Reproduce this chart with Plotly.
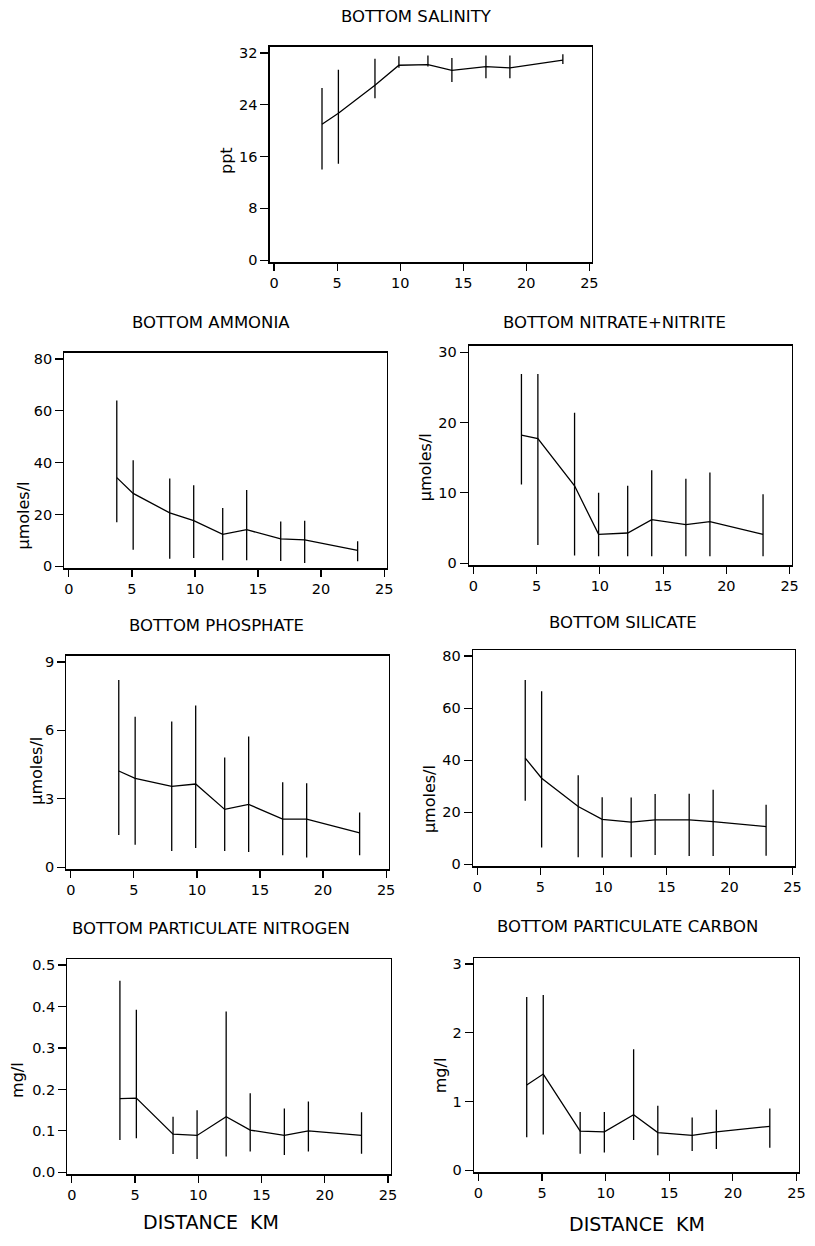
import plotly.graph_objects as go

W, H = 815, 1246

# ---------------- data ----------------
distance_km = [3.8, 5.1, 8.0, 9.9, 12.2, 14.1, 16.8, 18.7, 22.9]
x_ticks = [0, 5, 10, 15, 20, 25]

salinity_mean = [21.0, 22.7, 27.0, 30.1, 30.2, 29.3, 29.9, 29.7, 30.9]
salinity_hi = [26.6, 29.4, 31.1, 31.5, 31.6, 31.2, 31.6, 31.6, 31.8]
salinity_lo = [14.0, 14.9, 25.0, 29.7, 29.9, 27.5, 28.1, 28.1, 30.3]
salinity_ticks = [0, 8, 16, 24, 32]

ammonia_mean = [34.2, 28.1, 20.6, 17.6, 12.3, 14.1, 10.6, 10.2, 6.1]
ammonia_hi = [64.0, 40.9, 33.9, 31.3, 22.5, 29.4, 17.3, 17.6, 9.7]
ammonia_lo = [17.0, 6.4, 2.9, 3.2, 2.3, 2.3, 2.0, 1.3, 1.9]
ammonia_ticks = [0, 20, 40, 60, 80]

nitrate_mean = [18.2, 17.7, 11.0, 4.1, 4.3, 6.2, 5.5, 5.9, 4.1]
nitrate_hi = [26.9, 26.9, 21.4, 10.0, 11.0, 13.2, 12.0, 12.9, 9.8]
nitrate_lo = [11.2, 2.6, 1.1, 1.0, 1.0, 1.0, 1.0, 1.0, 1.0]
nitrate_ticks = [0, 10, 20, 30]

phosphate_mean = [4.22, 3.90, 3.55, 3.65, 2.54, 2.76, 2.11, 2.11, 1.51]
phosphate_hi = [8.21, 6.60, 6.39, 7.09, 4.81, 5.73, 3.73, 3.69, 2.40]
phosphate_lo = [1.42, 0.99, 0.72, 0.85, 0.72, 0.67, 0.53, 0.43, 0.53]
phosphate_ticks = [0, 3, 6, 9]

silicate_mean = [40.8, 33.1, 22.2, 17.3, 16.2, 17.1, 17.1, 16.4, 14.5]
silicate_hi = [70.8, 66.5, 34.2, 25.8, 25.7, 27.0, 27.1, 28.6, 22.9]
silicate_lo = [24.4, 6.5, 2.7, 2.6, 2.7, 3.6, 3.2, 3.2, 3.3]
silicate_ticks = [0, 20, 40, 60, 80]

pn_mean = [0.178, 0.179, 0.092, 0.089, 0.134, 0.102, 0.089, 0.100, 0.089]
pn_hi = [0.462, 0.392, 0.134, 0.150, 0.388, 0.191, 0.154, 0.171, 0.145]
pn_lo = [0.078, 0.082, 0.044, 0.032, 0.038, 0.050, 0.042, 0.050, 0.045]
pn_ticks = [0.0, 0.1, 0.2, 0.3, 0.4, 0.5]
pn_ticktext = ["0.0", "0.1", "0.2", "0.3", "0.4", "0.5"]

pc_mean = [1.24, 1.40, 0.57, 0.56, 0.81, 0.55, 0.51, 0.56, 0.64]
pc_hi = [2.52, 2.55, 0.85, 0.85, 1.76, 0.94, 0.77, 0.88, 0.90]
pc_lo = [0.48, 0.52, 0.24, 0.26, 0.44, 0.22, 0.28, 0.31, 0.33]
pc_ticks = [0, 1, 2, 3]

titles = ["BOTTOM SALINITY", "BOTTOM AMMONIA", "BOTTOM NITRATE+NITRITE",
          "BOTTOM PHOSPHATE", "BOTTOM SILICATE",
          "BOTTOM PARTICULATE NITROGEN", "BOTTOM PARTICULATE CARBON"]
y_titles = ["ppt", "μmoles/l", "μmoles/l", "μmoles/l", "μmoles/l", "mg/l", "mg/l"]
x_title = "DISTANCE  KM"

# ---------------- layout (pixel geometry) ----------------
FONT = "DejaVu Sans, Verdana, sans-serif"

panels = [
    # frame left,right,top,bottom ; title x,y ; ytitle x,y ; data
    dict(box=(272, 597, 45, 262), tpos=(420, 15), ypos=(229, 160),
         mean=salinity_mean, hi=salinity_hi, lo=salinity_lo, ticks=salinity_ticks, ttext=None),
    dict(box=(65, 390, 353, 570), tpos=(213, 323), ypos=(24, 517),
         mean=ammonia_mean, hi=ammonia_hi, lo=ammonia_lo, ticks=ammonia_ticks, ttext=None),
    dict(box=(473, 799, 346, 567), tpos=(620, 323), ypos=(430, 468),
         mean=nitrate_mean, hi=nitrate_hi, lo=nitrate_lo, ticks=nitrate_ticks, ttext=None),
    dict(box=(67, 392, 658, 873), tpos=(218, 628), ypos=(36, 774),
         mean=phosphate_mean, hi=phosphate_hi, lo=phosphate_lo, ticks=phosphate_ticks, ttext=None),
    dict(box=(477, 802, 652, 870), tpos=(628, 625), ypos=(434, 802),
         mean=silicate_mean, hi=silicate_hi, lo=silicate_lo, ticks=silicate_ticks, ttext=None),
    dict(box=(68, 394, 963, 1180), tpos=(213, 932), ypos=(17, 1085),
         mean=pn_mean, hi=pn_hi, lo=pn_lo, ticks=pn_ticks, ttext=pn_ticktext),
    dict(box=(478, 806, 962, 1178), tpos=(633, 930), ypos=(444, 1080),
         mean=pc_mean, hi=pc_hi, lo=pc_lo, ticks=pc_ticks, ttext=None),
]
x_title_pos = [(213, 1228), (643, 1230)]

fig = go.Figure()
annotations = []
layout_axes = {}

for i, p in enumerate(panels):
    n = i + 1
    xa = "x" if n == 1 else f"x{n}"
    ya = "y" if n == 1 else f"y{n}"
    xkey = "xaxis" if n == 1 else f"xaxis{n}"
    ykey = "yaxis" if n == 1 else f"yaxis{n}"
    mean, hi, lo = p["mean"], p["hi"], p["lo"]
    err_plus = [h - m for h, m in zip(hi, mean)]
    err_minus = [m - l for m, l in zip(mean, lo)]
    fig.add_trace(go.Scatter(
        x=distance_km, y=mean, mode="lines",
        line=dict(color="black", width=1.3),
        error_y=dict(type="data", symmetric=False, array=err_plus, arrayminus=err_minus,
                     color="black", thickness=1.3, width=0),
        xaxis=xa, yaxis=ya, showlegend=False, hoverinfo="skip"))

    l, r, t, b = p["box"]
    ymax = max(p["ticks"])
    layout_axes[xkey] = dict(
        domain=[l / W, r / W], anchor=ya, range=[-0.35, 25.2],
        tickvals=x_ticks, ticks="outside", ticklen=7, tickwidth=1.2, tickcolor="black",
        showline=True, linecolor="black", linewidth=1.3, mirror=True,
        showgrid=False, zeroline=False,
        tickfont=dict(family=FONT, size=14.5, color="black"))
    ydict = dict(
        domain=[1 - b / H, 1 - t / H], anchor=xa, range=[-0.01 * ymax, 1.03 * ymax],
        tickvals=p["ticks"], ticks="outside", ticklen=8, tickwidth=1.2, tickcolor="black",
        showline=True, linecolor="black", linewidth=1.3, mirror=True,
        showgrid=False, zeroline=False,
        tickfont=dict(family=FONT, size=14.5, color="black"))
    if p["ttext"] is not None:
        ydict["ticktext"] = p["ttext"]
    layout_axes[ykey] = ydict

    tx, ty = p["tpos"]
    annotations.append(dict(text=titles[i], x=tx / W, y=1 - ty / H, xref="paper", yref="paper",
                            xanchor="center", yanchor="middle", showarrow=False,
                            font=dict(family=FONT, size=16.5, color="black")))
    yx, yy = p["ypos"]
    annotations.append(dict(text=y_titles[i], x=yx / W, y=1 - yy / H, xref="paper", yref="paper",
                            xanchor="center", yanchor="middle", showarrow=False, textangle=-90,
                            font=dict(family=FONT, size=16, color="black")))

for (xx, yy) in x_title_pos:
    annotations.append(dict(text=x_title, x=xx / W, y=1 - yy / H, xref="paper", yref="paper",
                            xanchor="center", yanchor="middle", showarrow=False,
                            font=dict(family=FONT, size=19, color="black")))

fig.update_layout(
    width=W, height=H, margin=dict(l=0, r=0, t=0, b=0),
    paper_bgcolor="white", plot_bgcolor="white", hovermode=False,
    annotations=annotations, **layout_axes)

fig.write_html("out.html", config={"displayModeBar": False, "staticPlot": True},
               post_script="document.body.style.margin='0';document.body.style.overflow='hidden';")
